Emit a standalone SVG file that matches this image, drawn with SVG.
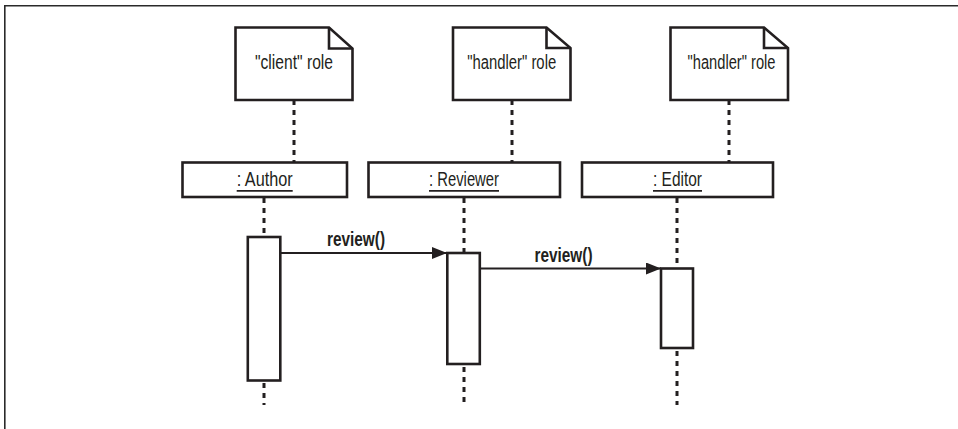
<svg xmlns="http://www.w3.org/2000/svg" width="958" height="429" viewBox="0 0 958 429">
  <defs>
    <style>
      .frame { fill: none; stroke: #2a2a2a; stroke-width: 1.6; }
      .box { fill: #ffffff; stroke: #231f20; stroke-width: 2.6; stroke-linejoin: miter; }
      .fold { fill: none; stroke: #231f20; stroke-width: 2.6; stroke-linejoin: miter; }
      .dash { fill: none; stroke: #231f20; stroke-width: 3; stroke-dasharray: 5 5; }
      .msg { fill: none; stroke: #231f20; stroke-width: 2.2; }
      .ul { stroke: #231f20; stroke-width: 1.8; }
      .lbl { font-family: "Liberation Sans Narrow", "Liberation Sans", Arial, sans-serif; font-size: 20px; fill: #231f20; text-anchor: middle; }
      .bold { font-weight: bold; }
    </style>
    <marker id="arrow" viewBox="0 0 15 12" refX="15" refY="6" markerWidth="15" markerHeight="12" markerUnits="userSpaceOnUse" orient="auto">
      <path d="M0,0 L15,6 L0,12 Z" fill="#231f20"/>
    </marker>
  </defs>

  <rect width="958" height="429" fill="#ffffff"/>
  <path class="frame" d="M4.8,429 V5.8 H958"/>

  <g id="connectors">
    <!-- note anchors -->
    <line class="dash" x1="294" y1="100" x2="294" y2="162"/>
    <line class="dash" x1="512" y1="100" x2="512" y2="162"/>
    <line class="dash" x1="729" y1="100" x2="729" y2="162"/>
    <!-- lifelines -->
    <line class="dash" x1="264" y1="198" x2="264" y2="237"/>
    <line class="dash" x1="264" y1="383" x2="264" y2="405"/>
    <line class="dash" x1="464" y1="198" x2="464" y2="253"/>
    <line class="dash" x1="464" y1="367" x2="464" y2="405"/>
    <line class="dash" x1="677" y1="198" x2="677" y2="268"/>
    <line class="dash" x1="677" y1="351" x2="677" y2="405"/>
    <!-- messages -->
    <line class="msg" x1="281" y1="253" x2="447" y2="253" marker-end="url(#arrow)"/>
    <text class="lbl bold" x="356" y="246" textLength="58" lengthAdjust="spacingAndGlyphs">review()</text>
    <line class="msg" x1="480" y1="268.5" x2="661" y2="268.5" marker-end="url(#arrow)"/>
    <text class="lbl bold" x="563.5" y="261.5" textLength="58" lengthAdjust="spacingAndGlyphs">review()</text>
  </g>

  <g id="note-client">
    <path class="box" d="M235.5,27.5 H329 L352.5,48.5 V100 H235.5 Z"/>
    <path class="fold" d="M329,27.5 V48.5 H352.5"/>
    <text class="lbl" x="294" y="68.5" textLength="78" lengthAdjust="spacingAndGlyphs">"client" role</text>
  </g>

  <g id="note-handler-1">
    <path class="box" d="M453,27.5 H546.5 L570.5,48 V100 H453 Z"/>
    <path class="fold" d="M546.5,27.5 V48 H570.5"/>
    <text class="lbl" x="511.7" y="68.5" textLength="89" lengthAdjust="spacingAndGlyphs">"handler" role</text>
  </g>

  <g id="note-handler-2">
    <path class="box" d="M670.5,27.5 H764 L788,48 V100 H670.5 Z"/>
    <path class="fold" d="M764,27.5 V48 H788"/>
    <text class="lbl" x="731.5" y="68.5" textLength="88" lengthAdjust="spacingAndGlyphs">"handler" role</text>
  </g>

  <g id="author">
    <rect class="box" x="182.5" y="162.5" width="164.5" height="34.5"/>
    <text class="lbl" x="264.7" y="185.5" textLength="56" lengthAdjust="spacingAndGlyphs">: Author</text>
    <line class="ul" x1="236.7" y1="190.8" x2="292.7" y2="190.8"/>
  </g>

  <g id="reviewer">
    <rect class="box" x="368.5" y="162.5" width="191.5" height="34.5"/>
    <text class="lbl" x="464" y="185.5" textLength="70" lengthAdjust="spacingAndGlyphs">: Reviewer</text>
    <line class="ul" x1="429" y1="190.8" x2="499" y2="190.8"/>
  </g>

  <g id="editor">
    <rect class="box" x="582" y="162.5" width="191" height="34.5"/>
    <text class="lbl" x="677.5" y="185.5" textLength="49" lengthAdjust="spacingAndGlyphs">: Editor</text>
    <line class="ul" x1="653" y1="190.8" x2="702" y2="190.8"/>
  </g>

  <g id="author-activation">
    <rect class="box" x="247.8" y="237" width="32.5" height="143.5"/>
  </g>
  <g id="reviewer-activation">
    <rect class="box" x="447.3" y="253" width="32.5" height="111"/>
  </g>
  <g id="editor-activation">
    <rect class="box" x="661" y="268.5" width="32" height="79.5"/>
  </g>
</svg>
